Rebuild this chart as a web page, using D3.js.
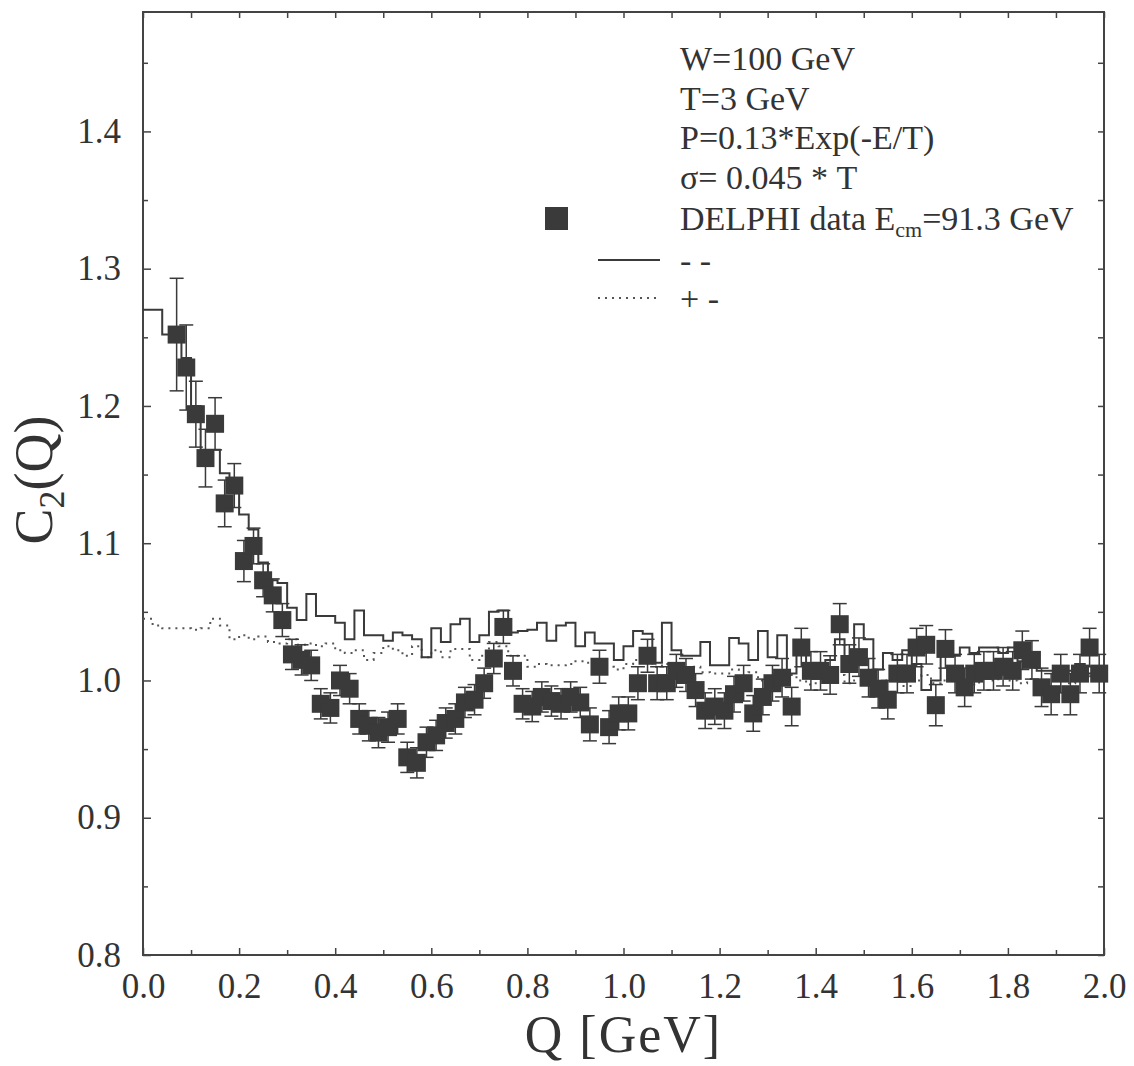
<!DOCTYPE html>
<html>
<head>
<meta charset="utf-8">
<script src="https://cdn.jsdelivr.net/npm/d3@7"></script>
<style>
  html, body { margin: 0; padding: 0; background: #ffffff; }
  svg { display: block; }
  text { font-family: "Liberation Serif", "Times New Roman", serif; fill: #333; }
</style>
</head>
<body>
<div id="chart"></div>
<script>
// C2(Q) vs Q : DELPHI data with two model histograms

// bin centres of the model histograms (0.02 GeV bins)
const qBins = [
  0.01, 0.03, 0.05, 0.07, 0.09, 0.11, 0.13, 0.15, 0.17, 0.19,
  0.21, 0.23, 0.25, 0.27, 0.29, 0.31, 0.33, 0.35, 0.37, 0.39,
  0.41, 0.43, 0.45, 0.47, 0.49, 0.51, 0.53, 0.55, 0.57, 0.59,
  0.61, 0.63, 0.65, 0.67, 0.69, 0.71, 0.73, 0.75, 0.77, 0.79,
  0.81, 0.83, 0.85, 0.87, 0.89, 0.91, 0.93, 0.95, 0.97, 0.99,
  1.01, 1.03, 1.05, 1.07, 1.09, 1.11, 1.13, 1.15, 1.17, 1.19,
  1.21, 1.23, 1.25, 1.27, 1.29, 1.31, 1.33, 1.35, 1.37, 1.39,
  1.41, 1.43, 1.45, 1.47, 1.49, 1.51, 1.53, 1.55, 1.57, 1.59,
  1.61, 1.63, 1.65, 1.67, 1.69, 1.71, 1.73, 1.75, 1.77, 1.79,
  1.81, 1.83, 1.85, 1.87, 1.89, 1.91, 1.93, 1.95, 1.97, 1.99
];
const binHalf = 0.01;

// "- -" (solid histogram)
const solidMC = [
  1.270, 1.270, 1.252, 1.252, 1.235, 1.200, 1.168, 1.168, 1.151, 1.143,
  1.121, 1.110, 1.086, 1.073, 1.071, 1.053, 1.044, 1.063, 1.047, 1.047,
  1.042, 1.030, 1.051, 1.033, 1.033, 1.029, 1.035, 1.033, 1.030, 1.017,
  1.038, 1.028, 1.041, 1.045, 1.028, 1.033, 1.050, 1.051, 1.035, 1.036,
  1.037, 1.042, 1.029, 1.040, 1.042, 1.025, 1.035, 1.027, 1.027, 1.015,
  1.025, 1.036, 1.034, 1.013, 1.042, 1.022, 1.018, 1.018, 1.028, 1.011,
  1.011, 1.031, 1.027, 1.015, 1.036, 1.017, 1.033, 1.005, 1.020, 1.012,
  1.008, 1.015, 1.030, 1.010, 1.041, 1.030, 1.008, 1.020, 1.015, 1.022,
  1.012, 0.993, 1.000, 1.022, 1.018, 1.024, 1.020, 1.024, 1.024, 1.020,
  1.024, 1.014, 1.010, 1.007, 1.007, 1.000, 1.007, 1.012, 1.005, 1.010
];

// "+ -" (dotted histogram)
const dottedMC = [
  1.045, 1.040, 1.038, 1.038, 1.038, 1.037, 1.038, 1.045, 1.040, 1.030,
  1.033, 1.030, 1.032, 1.028, 1.027, 1.030, 1.026, 1.027, 1.025, 1.027,
  1.022, 1.020, 1.022, 1.015, 1.020, 1.025, 1.022, 1.018, 1.025, 1.017,
  1.022, 1.017, 1.023, 1.023, 1.015, 1.018, 1.028, 1.025, 1.018, 1.018,
  1.010, 1.012, 1.011, 1.011, 1.012, 1.014, 1.013, 1.015, 1.010, 1.008,
  1.012, 1.015, 1.018, 1.010, 1.012, 1.010, 1.008, 1.010, 1.006, 1.005,
  1.005, 1.008, 1.003, 1.006, 1.000, 1.003, 0.998, 1.004, 1.000, 0.997,
  1.002, 1.000, 1.004, 0.998, 1.000, 1.003, 0.997, 1.000, 1.002, 0.996,
  1.000, 1.004, 0.998, 1.000, 1.003, 1.000, 0.997, 1.002, 1.000, 1.004,
  1.000, 0.998, 1.001, 0.997, 1.000, 1.002, 0.998, 1.000, 1.003, 1.000
];

// DELPHI data points
const qData = [
  0.07, 0.09, 0.11, 0.13, 0.15, 0.17, 0.19, 0.21, 0.23, 0.25, 0.27, 0.29,
  0.31, 0.33, 0.35, 0.37, 0.39, 0.41, 0.43, 0.45, 0.47, 0.49,
  0.51, 0.53, 0.55, 0.57, 0.59, 0.61, 0.63, 0.65, 0.67, 0.69,
  0.71, 0.73, 0.75, 0.77, 0.79, 0.81, 0.83, 0.85, 0.87, 0.89,
  0.91, 0.93, 0.95, 0.97, 0.99,
  1.01, 1.03, 1.05, 1.07, 1.09,
  1.11, 1.13, 1.15, 1.17, 1.19, 1.21, 1.23, 1.25, 1.27, 1.29,
  1.31,
  1.33, 1.35, 1.37, 1.39,
  1.41, 1.43, 1.45, 1.47, 1.49,
  1.51, 1.53, 1.55, 1.57, 1.59,
  1.61, 1.63, 1.65, 1.67, 1.69,
  1.71, 1.73, 1.75, 1.77, 1.79,
  1.81, 1.83, 1.85, 1.87, 1.89,
  1.91, 1.93, 1.95, 1.97, 1.99
];
const c2Data = [
  1.252, 1.228, 1.194, 1.162, 1.187, 1.129, 1.142, 1.087, 1.098, 1.073, 1.062, 1.044,
  1.019, 1.015, 1.011, 0.983, 0.980, 1.000, 0.994, 0.972, 0.967, 0.962,
  0.966, 0.972, 0.944, 0.940, 0.955, 0.960, 0.969, 0.972, 0.984, 0.986,
  0.998, 1.016, 1.039, 1.007, 0.983, 0.981, 0.988, 0.985, 0.983, 0.988,
  0.984, 0.968, 1.010, 0.966, 0.976,
  0.976, 0.998, 1.018, 0.998, 0.998,
  1.007, 1.004, 0.993, 0.978, 0.981, 0.978, 0.990, 0.998, 0.976, 0.988,
  0.998,
  1.002, 0.981, 1.024, 1.007,
  1.007, 1.004, 1.041, 1.012, 1.017,
  1.002, 0.994, 0.986, 1.005, 1.005,
  1.024, 1.026, 0.982, 1.023, 1.005,
  0.995, 1.005, 1.007, 1.007, 1.010,
  1.007, 1.022, 1.015, 0.995, 0.990,
  1.005, 0.990, 1.005, 1.024, 1.005
];
const c2Err = [
  0.041, 0.031, 0.024, 0.021, 0.019, 0.017, 0.016, 0.015, 0.013, 0.012, 0.012, 0.012,
  0.011, 0.011, 0.011, 0.011, 0.011, 0.011, 0.011, 0.011, 0.011, 0.011,
  0.011, 0.011, 0.011, 0.011, 0.011, 0.011, 0.011, 0.011, 0.011, 0.011,
  0.011, 0.011, 0.012, 0.011, 0.011, 0.011, 0.011, 0.011, 0.011, 0.011,
  0.011, 0.012, 0.012, 0.012, 0.012,
  0.012, 0.012, 0.012, 0.012, 0.012,
  0.012, 0.012, 0.012, 0.013, 0.013, 0.013, 0.013, 0.013, 0.013, 0.013,
  0.013,
  0.014, 0.014, 0.014, 0.014,
  0.014, 0.014, 0.015, 0.014, 0.014,
  0.014, 0.014, 0.014, 0.014, 0.014,
  0.014, 0.014, 0.015, 0.014, 0.014,
  0.014, 0.014, 0.014, 0.014, 0.014,
  0.014, 0.014, 0.014, 0.014, 0.015,
  0.014, 0.015, 0.014, 0.014, 0.014
];

const xMajor = [0.0, 0.2, 0.4, 0.6, 0.8, 1.0, 1.2, 1.4, 1.6, 1.8, 2.0];
const xMinor = [0.1, 0.3, 0.5, 0.7, 0.9, 1.1, 1.3, 1.5, 1.7, 1.9];
const yMajor = [0.8, 0.9, 1.0, 1.1, 1.2, 1.3, 1.4];
const yMinor = [0.85, 0.95, 1.05, 1.15, 1.25, 1.35, 1.45];

const legendLines = [
  "W=100 GeV",
  "T=3 GeV",
  "P=0.13*Exp(-E/T)",
  "\u03C3= 0.045 * T"
];

const width = 1134;
const height = 1066;
const plot = { left: 143, right: 1104, top: 12, bottom: 955 };

const svg = d3.select("#chart")
  .append("svg")
  .attr("width", width)
  .attr("height", height);

const x = d3.scaleLinear().domain([0, 2]).range([plot.left, plot.right]);
const y = d3.scaleLinear().domain([0.8, 1.487]).range([plot.bottom, plot.top]);

const ink = "#3a3a3a";

// axes (ticks point inwards)
function styleAxis(g) {
  g.select(".domain").remove();
  g.selectAll(".tick line").attr("stroke", "#444").attr("stroke-width", 1.5);
  g.selectAll(".tick text")
    .style("font-family", '"Liberation Serif", "Times New Roman", serif')
    .style("font-size", "35px")
    .attr("fill", "#333");
}

svg.append("g")
  .attr("transform", `translate(0,${plot.bottom})`)
  .call(d3.axisBottom(x).tickValues(xMajor).tickSize(-7).tickPadding(18)
    .tickFormat(d3.format(".1f")))
  .call(styleAxis);
svg.append("g")
  .attr("transform", `translate(0,${plot.bottom})`)
  .call(d3.axisBottom(x).tickValues(xMinor).tickSize(-5).tickFormat(""))
  .call(styleAxis);
svg.append("g")
  .attr("transform", `translate(0,${plot.top})`)
  .call(d3.axisTop(x).tickValues(xMajor.concat(xMinor)).tickSize(-6).tickFormat(""))
  .call(styleAxis);

svg.append("g")
  .attr("transform", `translate(${plot.left},0)`)
  .call(d3.axisLeft(y).tickValues(yMajor).tickSize(-8).tickPadding(22)
    .tickFormat(d3.format(".1f")))
  .call(styleAxis);
svg.append("g")
  .attr("transform", `translate(${plot.left},0)`)
  .call(d3.axisLeft(y).tickValues(yMinor).tickSize(-5).tickFormat(""))
  .call(styleAxis);
svg.append("g")
  .attr("transform", `translate(${plot.right},0)`)
  .call(d3.axisRight(y).tickValues(yMajor.concat(yMinor)).tickSize(-6).tickFormat(""))
  .call(styleAxis);

// frame
svg.append("rect")
  .attr("x", plot.left)
  .attr("y", plot.top)
  .attr("width", plot.right - plot.left)
  .attr("height", plot.bottom - plot.top)
  .attr("fill", "none")
  .attr("stroke", "#444")
  .attr("stroke-width", 2);

// histograms
function stepPoints(values) {
  const pts = [];
  values.forEach((v, i) => {
    pts.push([qBins[i] - binHalf, v]);
    pts.push([qBins[i] + binHalf, v]);
  });
  return pts;
}
const histLine = d3.line().x((d) => x(d[0])).y((d) => y(d[1]));

const plotArea = svg.append("g");

plotArea.append("path")
  .attr("d", histLine(stepPoints(dottedMC)))
  .attr("fill", "none")
  .attr("stroke", "#555")
  .attr("stroke-width", 2)
  .attr("stroke-dasharray", "2,5");

plotArea.append("path")
  .attr("d", histLine(stepPoints(solidMC)))
  .attr("fill", "none")
  .attr("stroke", ink)
  .attr("stroke-width", 2);

// data points with error bars
const points = qData.map((q, i) => ({ q: q, c: c2Data[i], e: c2Err[i] }));
const sq = 18;
const cap = 7;

const pts = plotArea.selectAll("g.pt")
  .data(points)
  .enter()
  .append("g")
  .attr("class", "pt");

pts.append("line")
  .attr("x1", (d) => x(d.q)).attr("x2", (d) => x(d.q))
  .attr("y1", (d) => y(d.c - d.e)).attr("y2", (d) => y(d.c + d.e))
  .attr("stroke", ink).attr("stroke-width", 1.5);
pts.append("line")
  .attr("x1", (d) => x(d.q) - cap).attr("x2", (d) => x(d.q) + cap)
  .attr("y1", (d) => y(d.c + d.e)).attr("y2", (d) => y(d.c + d.e))
  .attr("stroke", ink).attr("stroke-width", 1.5);
pts.append("line")
  .attr("x1", (d) => x(d.q) - cap).attr("x2", (d) => x(d.q) + cap)
  .attr("y1", (d) => y(d.c - d.e)).attr("y2", (d) => y(d.c - d.e))
  .attr("stroke", ink).attr("stroke-width", 1.5);
pts.append("rect")
  .attr("x", (d) => x(d.q) - sq / 2)
  .attr("y", (d) => y(d.c) - sq / 2)
  .attr("width", sq)
  .attr("height", sq)
  .attr("fill", ink);

// legend block
const legText = 680;
const legLine = [598, 660];
const legend = svg.append("g").attr("class", "legend");

legendLines.forEach((t, i) => {
  legend.append("text")
    .attr("x", legText)
    .attr("y", 70 + i * 39.5)
    .style("font-size", "34px")
    .text(t);
});

legend.append("rect")
  .attr("x", 545)
  .attr("y", 207)
  .attr("width", 23)
  .attr("height", 23)
  .attr("fill", ink);

const delphi = legend.append("text")
  .attr("x", legText)
  .attr("y", 230)
  .style("font-size", "34px");
delphi.append("tspan").text("DELPHI data E");
delphi.append("tspan").attr("dy", 7).style("font-size", "22px").text("cm");
delphi.append("tspan").attr("dy", -7).text("=91.3 GeV");

legend.append("line")
  .attr("x1", legLine[0]).attr("x2", legLine[1])
  .attr("y1", 260).attr("y2", 260)
  .attr("stroke", ink).attr("stroke-width", 2);
legend.append("text")
  .attr("x", legText).attr("y", 272)
  .style("font-size", "34px")
  .text("- -");

legend.append("line")
  .attr("x1", legLine[0]).attr("x2", legLine[1])
  .attr("y1", 298).attr("y2", 298)
  .attr("stroke", "#555").attr("stroke-width", 2)
  .attr("stroke-dasharray", "2,5");
legend.append("text")
  .attr("x", legText).attr("y", 310)
  .style("font-size", "34px")
  .text("+ -");

// axis titles
svg.append("text")
  .attr("x", (plot.left + plot.right) / 2)
  .attr("y", 1052)
  .attr("text-anchor", "middle")
  .style("font-size", "52px")
  .style("letter-spacing", "2px")
  .text("Q [GeV]");

const yTitle = svg.append("text")
  .attr("transform", "translate(52,480) rotate(-90)")
  .attr("text-anchor", "middle")
  .style("font-size", "54px");
yTitle.append("tspan").text("C");
yTitle.append("tspan").attr("dy", 12).style("font-size", "36px").text("2");
yTitle.append("tspan").attr("dy", -12).text("(Q)");
</script>
</body>
</html>
